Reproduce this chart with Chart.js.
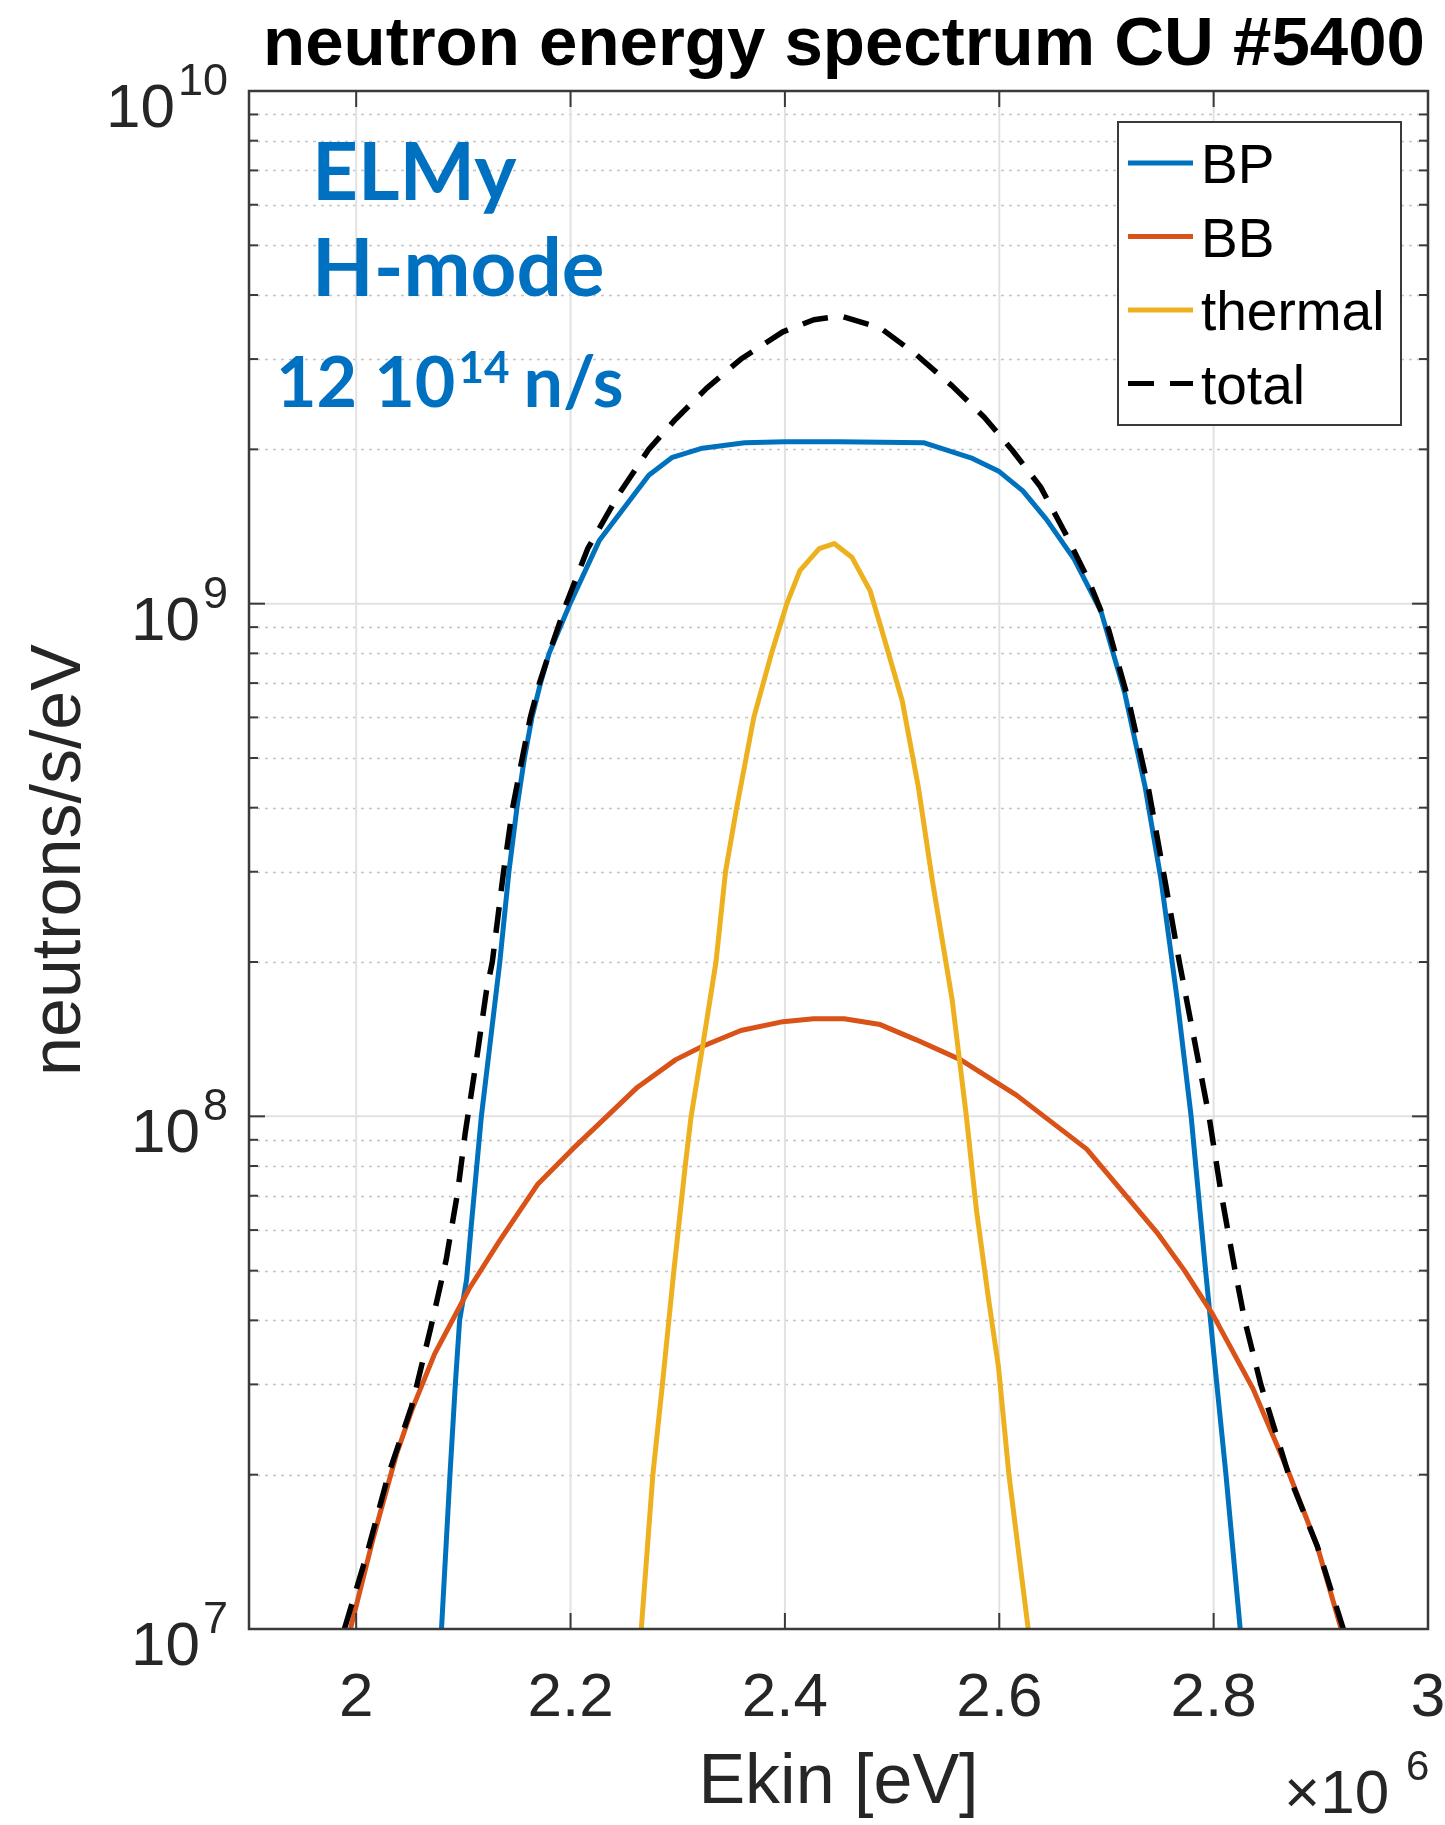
<!DOCTYPE html>
<html>
<head>
<meta charset="utf-8">
<title>neutron energy spectrum CU #5400</title>
<script src="https://cdn.jsdelivr.net/npm/chart.js@4.4.1/dist/chart.umd.min.js"></script>
<style>
  html, body { margin: 0; padding: 0; background: #fff; }
  #caixa { width: 1445px; height: 1825px; position: relative; }
</style>
</head>
<body>
<div id="caixa"><canvas id="grafico_espectro"></canvas></div>
<script>
// energias em eV, valores em neutrons/s/eV
const bpEnergia = [2.0796e6, 2.0875e6, 2.0925e6, 2.0965e6, 2.103e6, 2.107e6, 2.1125e6, 2.1168e6, 2.134e6, 2.1425e6,
  2.150e6, 2.157e6, 2.164e6, 2.172e6, 2.180e6, 2.1995e6, 2.227e6, 2.273e6, 2.295e6, 2.323e6,
  2.3625e6, 2.40e6, 2.45e6, 2.53e6, 2.575e6, 2.60e6, 2.622e6, 2.644e6, 2.670e6, 2.695e6,
  2.717e6, 2.736e6, 2.751e6, 2.766e6, 2.779e6, 2.7925e6, 2.803e6, 2.8115e6, 2.8248e6];
const bpValores = [1e7, 2e7, 3e7, 4e7, 4.8e7, 6e7, 8e7, 1e8, 2e8, 3e8,
  4e8, 5e8, 6e8, 7e8, 8e8, 1e9, 1.33e9, 1.78e9, 1.93e9, 2.01e9,
  2.06e9, 2.07e9, 2.07e9, 2.06e9, 1.92e9, 1.81e9, 1.66e9, 1.46e9, 1.22e9, 9.65e8,
  6.7e8, 4.4e8, 2.89e8, 1.69e8, 1e8, 5e7, 3e7, 2e7, 1e7];

const bbEnergia = [1.9946e6, 2.0161e6, 2.0375e6, 2.0518e6, 2.0732e6, 2.1054e6, 2.1339e6, 2.1696e6, 2.2018e6, 2.2339e6,
  2.2625e6, 2.2982e6, 2.3232e6, 2.3589e6, 2.3982e6, 2.4268e6, 2.4552e6, 2.4889e6, 2.5226e6, 2.5637e6,
  2.616e6, 2.6816e6, 2.747e6, 2.7732e6, 2.7994e6, 2.8368e6, 2.870e6, 2.8967e6, 2.919e6];
const bbValores = [1e7, 1.51e7, 2.19e7, 2.67e7, 3.44e7, 4.61e7, 5.72e7, 7.38e7, 8.63e7, 1e8,
  1.14e8, 1.29e8, 1.37e8, 1.47e8, 1.53e8, 1.55e8, 1.55e8, 1.51e8, 1.41e8, 1.29e8,
  1.1e8, 8.63e7, 5.94e7, 4.99e7, 4.1e7, 2.94e7, 2.02e7, 1.45e7, 1e7];

const termEnergia = [2.266e6, 2.2768e6, 2.2857e6, 2.2964e6, 2.307e6, 2.3125e6, 2.323e6, 2.3357e6, 2.3446e6, 2.355e6,
  2.371e6, 2.3875e6, 2.4018e6, 2.414e6, 2.432e6, 2.446e6, 2.4627e6, 2.4795e6, 2.4926e6, 2.5095e6,
  2.5244e6, 2.5375e6, 2.556e6, 2.5693e6, 2.5787e6, 2.59e6, 2.5993e6, 2.609e6, 2.627e6];
const termValores = [1e7, 2e7, 3e7, 5e7, 8e7, 1e8, 1.36e8, 2e8, 3e8, 4e8,
  6e8, 8e8, 1e9, 1.16e9, 1.28e9, 1.31e9, 1.23e9, 1.06e9, 8.56e8, 6.46e8,
  4.4e8, 2.89e8, 1.69e8, 1e8, 6.56e7, 4.4e7, 3.24e7, 2e7, 1e7];

const totalEnergia = [1.989e6, 2.010e6, 2.030e6, 2.0518e6, 2.0696e6, 2.0839e6, 2.0946e6, 2.1018e6, 2.1125e6, 2.1214e6,
  2.127e6, 2.1375e6, 2.146e6, 2.155e6, 2.1625e6, 2.171e6, 2.180e6, 2.196e6, 2.216e6, 2.2446e6,
  2.273e6, 2.298e6, 2.3268e6, 2.359e6, 2.398e6, 2.427e6, 2.452e6, 2.489e6, 2.5226e6, 2.556e6,
  2.586e6, 2.6123e6, 2.6385e6, 2.661e6, 2.6834e6, 2.702e6, 2.7208e6, 2.7395e6, 2.7545e6, 2.768e6,
  2.7957e6, 2.8069e6, 2.82e6, 2.829e6, 2.844e6, 2.870e6, 2.8967e6, 2.921e6];
const totalValores = [1e7, 1.4e7, 2e7, 2.72e7, 3.87e7, 5.24e7, 7.1e7, 9.3e7, 1.3e8, 1.75e8,
  2e8, 3e8, 4e8, 5e8, 6e8, 7e8, 8e8, 1e9, 1.28e9, 1.63e9,
  2e9, 2.29e9, 2.63e9, 3e9, 3.39e9, 3.58e9, 3.64e9, 3.45e9, 3.06e9, 2.66e9,
  2.31e9, 1.99e9, 1.69e9, 1.38e9, 1.11e9, 8.9e8, 6.45e8, 4.32e8, 2.89e8, 2e8,
  1e8, 7.1e7, 5e7, 4e7, 3e7, 2e7, 1.45e7, 1e7];

const xTicks = [2.0e6, 2.2e6, 2.4e6, 2.6e6, 2.8e6, 3.0e6];
const xTickLabels = ['2', '2.2', '2.4', '2.6', '2.8', '3'];
const yTicks = [1e7, 1e8, 1e9, 1e10];
const yTickExpoentes = ['7', '8', '9', '10'];

const FONTE = "'Liberation Sans', Arial, Helvetica, sans-serif";
const FONTE_ANOT = "Lato, 'Open Sans', sans-serif";
const COR_TEXTO = '#262626';

function pares(xs, ys) {
  return xs.map((e, i) => ({ x: e, y: ys[i] }));
}

const eixos = {
  id: 'eixos',
  beforeDatasetsDraw(chart) {
    const { ctx, chartArea: a, scales: { x, y } } = chart;
    const linha = (x1, y1, x2, y2) => { ctx.beginPath(); ctx.moveTo(x1, y1); ctx.lineTo(x2, y2); ctx.stroke(); };
    ctx.save();
    // grade menor (pontilhada)
    ctx.strokeStyle = '#c4c4c4';
    ctx.lineWidth = 1.5;
    ctx.setLineDash([3, 5]);
    yTicks.slice(0, -1).forEach(d => {
      for (let k = 2; k < 10; k++) {
        const py = Math.round(y.getPixelForValue(k * d)) + 0.5;
        linha(a.left, py, a.right, py);
      }
    });
    // grade maior
    ctx.setLineDash([]);
    ctx.strokeStyle = '#e2e2e2';
    ctx.lineWidth = 2;
    xTicks.forEach(v => { const px = x.getPixelForValue(v); linha(px, a.top, px, a.bottom); });
    yTicks.forEach(v => { const py = y.getPixelForValue(v); linha(a.left, py, a.right, py); });
    ctx.restore();
  },
  afterDatasetsDraw(chart) {
    const { ctx, chartArea: a, scales: { x, y } } = chart;
    const linha = (x1, y1, x2, y2) => { ctx.beginPath(); ctx.moveTo(x1, y1); ctx.lineTo(x2, y2); ctx.stroke(); };
    ctx.save();

    // moldura e marcas
    ctx.strokeStyle = '#3a3a3a';
    ctx.lineWidth = 2.5;
    ctx.strokeRect(a.left, a.top, a.right - a.left, a.bottom - a.top);
    ctx.lineWidth = 2;
    xTicks.forEach(v => {
      const px = x.getPixelForValue(v);
      linha(px, a.bottom, px, a.bottom - 16);
      linha(px, a.top, px, a.top + 16);
    });
    yTicks.forEach((d, i) => {
      const py = y.getPixelForValue(d);
      linha(a.left, py, a.left + 16, py);
      linha(a.right, py, a.right - 16, py);
      if (i < yTicks.length - 1) {
        for (let k = 2; k < 10; k++) {
          const pm = y.getPixelForValue(k * d);
          linha(a.left, pm, a.left + 9, pm);
          linha(a.right, pm, a.right - 9, pm);
        }
      }
    });

    // rótulos do eixo x
    ctx.fillStyle = COR_TEXTO;
    ctx.font = `62px ${FONTE}`;
    ctx.textAlign = 'center';
    ctx.textBaseline = 'alphabetic';
    xTicks.forEach((v, i) => ctx.fillText(xTickLabels[i], x.getPixelForValue(v), a.bottom + 87));

    // rótulos do eixo y (10^n)
    yTicks.forEach((v, i) => {
      const py = y.getPixelForValue(v);
      ctx.font = `45px ${FONTE}`;
      const wSup = ctx.measureText(yTickExpoentes[i]).width;
      ctx.textAlign = 'left';
      ctx.fillText(yTickExpoentes[i], 228 - wSup, py + 4);
      ctx.font = `62px ${FONTE}`;
      ctx.textAlign = 'right';
      ctx.fillText('10', 228 - wSup - 3, py + 36);
    });

    // título dos eixos
    ctx.font = `70px ${FONTE}`;
    ctx.textAlign = 'center';
    ctx.fillText('Ekin [eV]', (a.left + a.right) / 2, 1803);
    ctx.save();
    ctx.translate(80, (a.top + a.bottom) / 2);
    ctx.rotate(-Math.PI / 2);
    ctx.fillText('neutrons/s/eV', 0, 0);
    ctx.restore();

    // multiplicador x10^6
    ctx.textAlign = 'left';
    ctx.font = `62px ${FONTE}`;
    ctx.fillText('\u00d710', 1284, 1813);
    ctx.font = `42px ${FONTE}`;
    ctx.fillText('6', 1406, 1780);

    // título
    ctx.fillStyle = '#000';
    ctx.font = `bold 69px ${FONTE}`;
    ctx.textAlign = 'center';
    ctx.fillText('neutron energy spectrum CU #5400', 844, 65);

    // legenda
    const lx = 1118, ly = 122, lw = 283, lh = 303;
    ctx.fillStyle = '#fff';
    ctx.fillRect(lx, ly, lw, lh);
    ctx.strokeStyle = '#3a3a3a';
    ctx.lineWidth = 2;
    ctx.strokeRect(lx, ly, lw, lh);
    chart.data.datasets.forEach((ds, i) => {
      const cy = 163 + i * 73.5;
      ctx.strokeStyle = ds.borderColor;
      ctx.lineWidth = 5;
      ctx.setLineDash(ds.borderDash || []);
      linha(1128, cy, 1193, cy);
      ctx.setLineDash([]);
      ctx.fillStyle = '#000';
      ctx.font = `55px ${FONTE}`;
      ctx.textAlign = 'left';
      ctx.fillText(ds.label, 1201, cy + 20);
    });

    // anotação
    ctx.fillStyle = '#0070C0';
    ctx.textAlign = 'left';
    ctx.font = `bold 80px ${FONTE_ANOT}`;
    ctx.fillText('ELMy', 312, 200);
    ctx.fillText('H-mode', 312, 296);
    ctx.font = `bold 70px ${FONTE_ANOT}`;
    ctx.fillText('12 10', 276, 407);
    const w1 = ctx.measureText('12 10').width;
    ctx.font = `bold 44px ${FONTE_ANOT}`;
    ctx.fillText('14', 276 + w1 + 3, 383);
    const w2 = ctx.measureText('14').width;
    ctx.font = `bold 70px ${FONTE_ANOT}`;
    ctx.fillText('n/s', 276 + w1 + 3 + w2 + 14, 407);

    ctx.restore();
  }
};

const ctx = document.getElementById('grafico_espectro');

new Chart(ctx, {
  type: 'line',
  data: {
    datasets: [
      { label: 'BP', data: pares(bpEnergia, bpValores), borderColor: '#0072BD', order: 4 },
      { label: 'BB', data: pares(bbEnergia, bbValores), borderColor: '#D95319', order: 3 },
      { label: 'thermal', data: pares(termEnergia, termValores), borderColor: '#EDB120', order: 2 },
      { label: 'total', data: pares(totalEnergia, totalValores), borderColor: '#000000', borderDash: [26, 16], borderWidth: 5.5, order: 1 }
    ]
  },
  options: {
    animation: false,
    responsive: true,
    maintainAspectRatio: false,
    layout: { padding: { left: 249, top: 91, right: 17, bottom: 196 } },
    elements: {
      point: { radius: 0 },
      line: { borderWidth: 5, tension: 0, borderJoinStyle: 'round', fill: false }
    },
    datasets: { line: { clip: 0 } },
    plugins: {
      legend: { display: false },
      title: { display: false },
      tooltip: { enabled: false }
    },
    scales: {
      x: { type: 'linear', min: 1.9e6, max: 3.0e6, display: false },
      y: { type: 'logarithmic', min: 1e7, max: 1e10, display: false }
    }
  },
  plugins: [eixos]
});
</script>
</body>
</html>
